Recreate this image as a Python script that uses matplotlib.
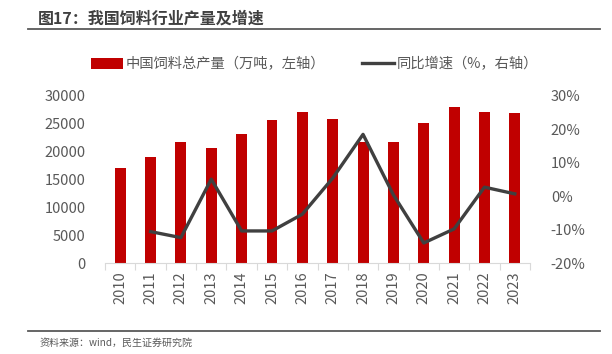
import matplotlib
matplotlib.use('Agg')
import matplotlib.pyplot as plt
import numpy as np
from matplotlib.lines import Line2D
from matplotlib.patches import Patch
from matplotlib.ticker import FuncFormatter, FixedLocator

plt.rcParams['font.family'] = ['Noto Sans CJK SC', 'DejaVu Sans']

years = ['2010', '2011', '2012', '2013', '2014', '2015', '2016',
         '2017', '2018', '2019', '2020', '2021', '2022', '2023']
output = [17150, 19060, 21810, 20740, 23130, 25760, 27070,
          25820, 21810, 21690, 25220, 28030, 27190, 27010]
growth = [np.nan, -10.6, -12.4, 5.1, -10.4, -10.4, -5.4,
          5.4, 18.5, 0.4, -14.0, -9.8, 2.7, 0.7]

red = '#C00000'
dark = '#404040'
grey = '#595959'

fig = plt.figure(figsize=(6.12, 3.54), dpi=100)
ax = fig.add_axes([0.1716, 0.257, 0.6944, 0.472])
ax2 = ax.twinx()

x = np.arange(len(years))
ax.bar(x, output, width=0.36, color=red, zorder=2)
ax2.plot(x, growth, color=dark, lw=2.4, zorder=3)

ax.set_xlim(-0.5, len(years) - 0.5)
ax.set_ylim(0, 30000)
ax.set_yticks(range(0, 30001, 5000))
ax2.set_ylim(-20, 30)
ax2.set_yticks(range(-20, 31, 10))
ax2.yaxis.set_major_formatter(FuncFormatter(lambda v, p: f'{v:.0f}%'))

ax.set_xticks(x)
ax.set_xticklabels(years, rotation=90)
ax.xaxis.set_minor_locator(FixedLocator(np.arange(-0.5, len(years), 1.0)))
ax.tick_params(axis='x', which='major', length=0, pad=6, labelsize=10.5, labelcolor=grey)
ax.tick_params(axis='x', which='minor', length=5, color='#d9d9d9', width=0.8)
ax.tick_params(axis='y', length=0, pad=14, labelsize=10.5, labelcolor=grey)
ax2.tick_params(axis='y', length=0, pad=15, labelsize=10.5, labelcolor=grey)

for a in (ax, ax2):
    for s in ('top', 'left', 'right'):
        a.spines[s].set_visible(False)
    a.spines['bottom'].set_color('#d9d9d9')
ax2.spines['bottom'].set_visible(False)

handles = [Patch(facecolor=red, edgecolor='none'),
           Line2D([0], [0], color=dark, lw=2.4)]
labels = ['中国饲料总产量（万吨，左轴）', '同比增速（%，右轴）']
fig.legend(handles, labels, loc='center', bbox_to_anchor=(0.514, 0.819), ncol=2,
           frameon=False, fontsize=10.3, handlelength=2.2, handleheight=0.8,
           handletextpad=0.2, columnspacing=2.6, labelcolor=grey)

fig.text(38 / 612, 1 - 19 / 354, '图17：我国饲料行业产量及增速', fontsize=11.5,
         fontweight='bold', color=dark, va='center', ha='left')
fig.add_artist(Line2D([28 / 612, 600 / 612], [1 - 28.5 / 354] * 2, color=grey, lw=1.3))
fig.add_artist(Line2D([28 / 612, 600 / 612], [1 - 331 / 354] * 2, color=grey, lw=1.3))
fig.text(40 / 612, 1 - 343 / 354, '资料来源：wind，民生证券研究院', fontsize=7.2,
         color=grey, va='center', ha='left')

fig.savefig('out.png', dpi=100)
